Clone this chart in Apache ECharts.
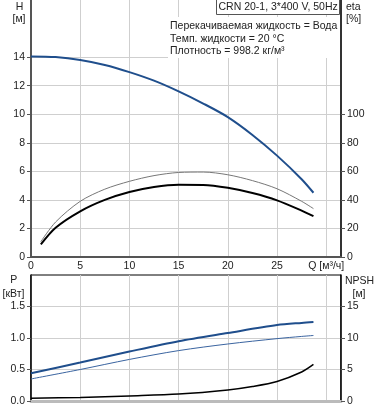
<!DOCTYPE html>
<html>
<head>
<meta charset="utf-8">
<script src="https://cdn.jsdelivr.net/npm/echarts@6/dist/echarts.min.js"></script>
<style>
html,body{margin:0;padding:0;background:#fff;}
#c{width:378px;height:410px;}
</style>
</head>
<body>
<div id="c"></div>
<script>
// ---- data ----
const qH = [0, 2.5, 5, 7.5, 10, 12.5, 15, 17.5, 20, 22.5, 25, 27.5, 28.7];
const headH = [14.05, 14.0, 13.8, 13.45, 12.95, 12.35, 11.6, 10.75, 9.8, 8.55, 7.1, 5.45, 4.5];

const qEta = [1, 2.5, 5, 7.5, 10, 12.5, 15, 17.5, 20, 22.5, 25, 27.5, 28.7];
const etaThick = [8.8, 20.5, 32, 40, 45.5, 49, 50.6, 50.5, 48.5, 44.8, 39.7, 32.5, 28.6];
const etaThin = [10.7, 24.5, 39, 47.5, 53, 57, 59.2, 59.5, 57.6, 53.5, 47.8, 39, 33.9];

const qP = [0, 5, 10, 15, 20, 25, 27.5, 28.7];
const p1 = [0.44, 0.61, 0.785, 0.95, 1.08, 1.205, 1.24, 1.253];
const p2 = [0.35, 0.50, 0.66, 0.80, 0.905, 0.99, 1.025, 1.04];
const qN = [0, 5, 10, 15, 20, 22.5, 25, 27.5, 28.7];
const npsh = [0.45, 0.55, 0.8, 1.1, 1.75, 2.3, 3.1, 4.6, 5.8];

const xTicks = [0, 5, 10, 15, 20, 25, 30];
const hTicks = [0, 2, 4, 6, 8, 10, 12, 14];
const etaTicks = [0, 20, 40, 60, 80, 100];
const pTicks = [0, 0.5, 1.0, 1.5];
const npshTicks = [0, 5, 10, 15];

const titleText = 'CRN 20-1, 3*400 V, 50Hz';
const infoLines = ['Перекачиваемая жидкость = Вода', 'Темп. жидкости = 20 °C', 'Плотность = 998.2 кг/м³'];

const FONT = '"Liberation Sans", Arial, sans-serif';
const FS = 10.5;
const zip = (xs, ys) => xs.map((x, i) => [x, ys[i]]);

const chart = echarts.init(document.getElementById('c'), null, {renderer: 'canvas'});
const grid = {color: '#cfcfcf', width: 1};
const lbl = {color: '#222', fontSize: FS, fontFamily: FONT};
const curve = {type: 'line', smooth: 0.3, showSymbol: false};

chart.setOption({
  animation: false,
  backgroundColor: '#fff',
  grid: [
    {left: 31, right: 37, top: -1, height: 258, show: false},
    {left: 31, right: 37, top: 275, height: 126, show: true, borderColor: '#000', borderWidth: 1}
  ],
  xAxis: [
    {gridIndex: 0, type: 'value', min: 0, max: 31.5, interval: 5,
     axisLine: {lineStyle: {color: '#555', width: 2}},
     axisTick: {show: false},
     splitLine: {lineStyle: grid},
     axisLabel: Object.assign({}, lbl, {customValues: xTicks, margin: 4,
       formatter: v => v === 30 ? 'Q [м³/ч]' : String(v)})},
    {gridIndex: 1, type: 'value', min: 0, max: 31.5, interval: 5,
     axisLine: {lineStyle: {color: '#bbb', width: 3}},
     axisTick: {show: false},
     axisLabel: {show: false},
     splitLine: {lineStyle: grid}}
  ],
  yAxis: [
    {gridIndex: 0, type: 'value', min: 0, max: 18, interval: 2, position: 'left',
     axisLine: {show: true, lineStyle: {color: '#555', width: 2}},
     axisTick: {show: true, length: 4, customValues: hTicks, lineStyle: {color: '#555'}},
     splitLine: {lineStyle: grid},
     axisLabel: Object.assign({}, lbl, {customValues: hTicks, margin: 6})},
    {gridIndex: 0, type: 'value', min: 0, max: 180, interval: 20, position: 'right',
     axisLine: {show: true, lineStyle: {color: '#333', width: 2}},
     axisTick: {show: true, length: 4, customValues: etaTicks, lineStyle: {color: '#555'}},
     splitLine: {show: false},
     axisLabel: Object.assign({}, lbl, {customValues: etaTicks, margin: 6})},
    {gridIndex: 1, type: 'value', min: 0, max: 2, interval: 0.5, position: 'left',
     axisLine: {show: true, lineStyle: {color: '#000', width: 1.5}},
     axisTick: {show: true, length: 4, customValues: pTicks, lineStyle: {color: '#555'}},
     splitLine: {lineStyle: grid},
     axisLabel: Object.assign({}, lbl, {customValues: pTicks, margin: 6, formatter: v => v.toFixed(1)})},
    {gridIndex: 1, type: 'value', min: 0, max: 20, interval: 5, position: 'right',
     axisLine: {show: true, lineStyle: {color: '#000', width: 1.5}},
     axisTick: {show: true, length: 4, customValues: npshTicks, lineStyle: {color: '#555'}},
     splitLine: {show: false},
     axisLabel: Object.assign({}, lbl, {customValues: npshTicks, margin: 6})}
  ],
  series: [
    Object.assign({}, curve, {xAxisIndex: 0, yAxisIndex: 0, data: zip(qH, headH),
     lineStyle: {color: '#1f4e8c', width: 2}}),
    Object.assign({}, curve, {xAxisIndex: 0, yAxisIndex: 1, data: zip(qEta, etaThin),
     lineStyle: {color: '#777', width: 1}}),
    Object.assign({}, curve, {xAxisIndex: 0, yAxisIndex: 1, data: zip(qEta, etaThick),
     lineStyle: {color: '#000', width: 2}}),
    Object.assign({}, curve, {xAxisIndex: 1, yAxisIndex: 2,
     data: zip(qP, p1).map((d, i, a) => i === a.length - 1 ? {value: d, label: {show: true, position: 'top', distance: 1, formatter: 'P1', color: '#2a5b9c', fontSize: 11, fontFamily: FONT}} : d),
     lineStyle: {color: '#1f4e8c', width: 2}}),
    Object.assign({}, curve, {xAxisIndex: 1, yAxisIndex: 2,
     data: zip(qP, p2).map((d, i, a) => i === a.length - 1 ? {value: d, label: {show: true, position: 'bottom', distance: 2, formatter: 'P2', color: '#2a5b9c', fontSize: 11, fontFamily: FONT}} : d),
     lineStyle: {color: '#3a64a0', width: 1}}),
    Object.assign({}, curve, {xAxisIndex: 1, yAxisIndex: 3, data: zip(qN, npsh),
     lineStyle: {color: '#000', width: 1.5}})
  ],
  graphic: [
    {type: 'rect', z: 10, shape: {x: 168, y: 17, width: 172, height: 41}, style: {fill: '#fff'}},
    {type: 'rect', z: 11, shape: {x: 216.5, y: -1.5, width: 123, height: 16}, style: {fill: '#fff', stroke: '#555', lineWidth: 1}},
    {type: 'text', z: 12, style: {text: titleText, x: 218.5, y: 7, font: FS + 'px ' + FONT, fill: '#222', verticalAlign: 'middle'}},
    {type: 'text', z: 12, style: {text: infoLines[0], x: 170, y: 26, font: FS + 'px ' + FONT, fill: '#222', verticalAlign: 'middle'}},
    {type: 'text', z: 12, style: {text: infoLines[1], x: 170, y: 39, font: FS + 'px ' + FONT, fill: '#222', verticalAlign: 'middle'}},
    {type: 'text', z: 12, style: {text: infoLines[2], x: 170, y: 51, font: FS + 'px ' + FONT, fill: '#222', verticalAlign: 'middle'}},
    {type: 'text', z: 12, style: {text: 'H', x: 19.5, y: 7, font: FS + 'px ' + FONT, fill: '#222', align: 'center', verticalAlign: 'middle'}},
    {type: 'text', z: 12, style: {text: '[м]', x: 19, y: 19.5, font: FS + 'px ' + FONT, fill: '#222', align: 'center', verticalAlign: 'middle'}},
    {type: 'text', z: 12, style: {text: 'eta', x: 346, y: 7, font: FS + 'px ' + FONT, fill: '#222', verticalAlign: 'middle'}},
    {type: 'text', z: 12, style: {text: '[%]', x: 346, y: 19.5, font: FS + 'px ' + FONT, fill: '#222', verticalAlign: 'middle'}},
    {type: 'text', z: 12, style: {text: 'P', x: 13.7, y: 280, font: FS + 'px ' + FONT, fill: '#222', align: 'center', verticalAlign: 'middle'}},
    {type: 'text', z: 12, style: {text: '[кВт]', x: 13.5, y: 294, font: FS + 'px ' + FONT, fill: '#222', align: 'center', verticalAlign: 'middle'}},
    {type: 'text', z: 12, style: {text: 'NPSH', x: 345, y: 281, font: FS + 'px ' + FONT, fill: '#222', verticalAlign: 'middle'}},
    {type: 'text', z: 12, style: {text: '[м]', x: 359, y: 294, font: FS + 'px ' + FONT, fill: '#222', align: 'center', verticalAlign: 'middle'}}
  ]
});
</script>
</body>
</html>
